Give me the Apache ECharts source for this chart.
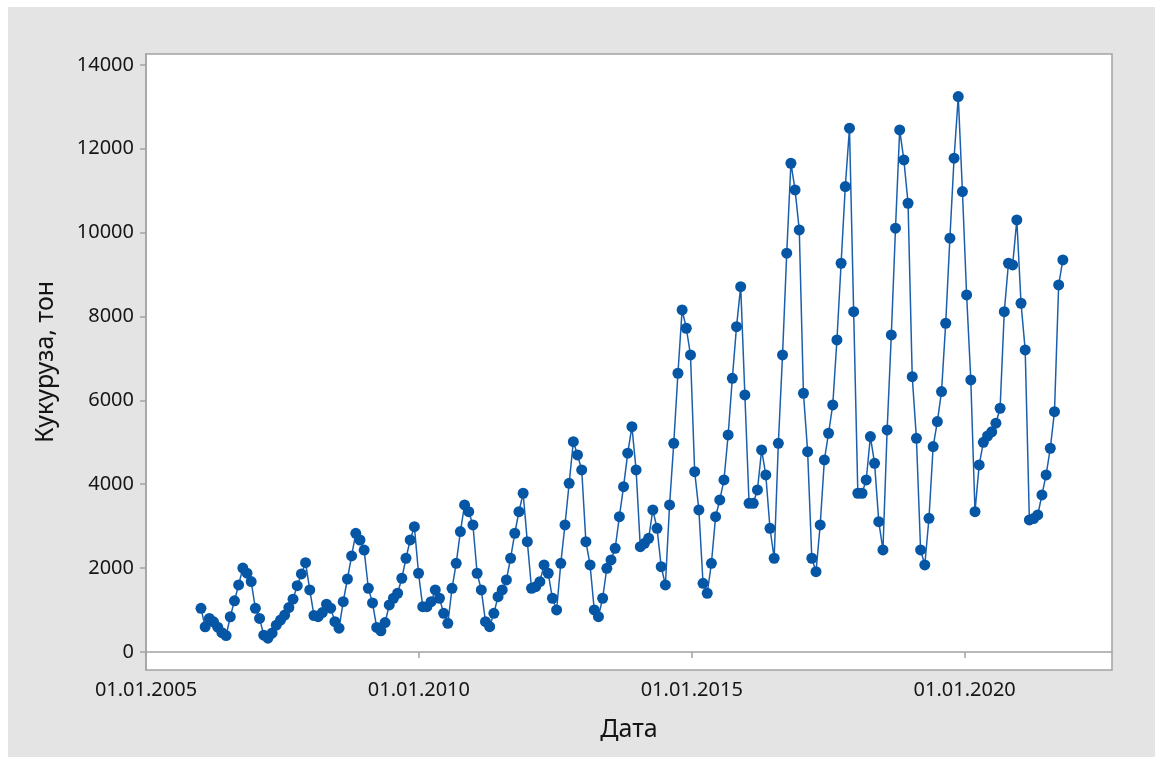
<!DOCTYPE html>
<html><head><meta charset="utf-8">
<script src="https://cdn.jsdelivr.net/npm/echarts@6/dist/echarts.min.js"></script>
<style>html,body{margin:0;padding:0;background:#fff;}#c{position:absolute;left:8px;top:7px;width:1147px;height:750px;}</style>
</head><body><div id="c"></div>
<script>
// 4-weekly observations starting at startDate
const startDate = '2006-01-04';
const stepDays = 28;
const values = [
  1040, 600, 800, 720, 590, 460, 390, 840, 1220, 1600, 2000, 1880, 1680, 1040, 800, 400, 330, 450, 640, 760, 880, 1060, 1260, 1580, 1860, 2130,
  1480, 870, 842, 940, 1140, 1045, 723, 568, 1200, 1740, 2290, 2830, 2670, 2430, 1519, 1170, 585, 505, 700, 1121, 1281, 1400, 1758, 2235, 2671, 2988,
  1877, 1080, 1080, 1200, 1479, 1281, 923, 684, 1519, 2115, 2870, 3506, 3346, 3029, 1877, 1479, 723, 604, 923, 1319, 1479, 1717, 2235, 2831, 3346, 3785,
  2631, 1519, 1557, 1677, 2075, 1877, 1281, 1002, 2115, 3029, 4023, 5016,
  4698, 4341, 2631, 2075, 1002, 842, 1281, 1996, 2194, 2473, 3227, 3942, 4740, 5373,
  4341, 2512, 2592, 2712, 3387, 2950, 2035, 1598, 3506, 4977, 6647, 8157,
  7720, 7083, 4300, 3387, 1638, 1400, 2115, 3227, 3625, 4102, 5175, 6527, 7758, 8712,
  6130, 3546, 3546, 3863, 4818, 4221, 2950, 2235, 4977, 7083, 9509, 11655,
  11019, 10065, 6170, 4777, 2235, 1915, 3029, 4579, 5216, 5891, 7441, 9270, 11098, 12490,
  8116, 3785, 3785, 4102, 5136, 4500, 3108, 2433, 5295, 7560, 10105, 12450,
  11734, 10701, 6566, 5096, 2433, 2075, 3188, 4897, 5494, 6209, 7839, 9867, 11775, 13245,
  10979, 8515, 6487, 3346, 4460, 5000, 5150, 5250, 5455, 5812, 8116, 9270, 9230, 10303,
  8316, 7203, 3148, 3180, 3267, 3744, 4221, 4858, 5731, 8753, 9349
];
const xTickYears = [2005, 2010, 2015, 2020];
const yTicks = [0, 2000, 4000, 6000, 8000, 10000, 12000, 14000];
const xTitle = 'Дата';
const yTitle = 'Кукуруза, тон';

const DAY = 864e5, YEAR = 365.25 * DAY;
const base = Date.UTC(2005, 0, 1);
const t0 = Date.parse(startDate + 'T00:00:00Z');
const toYear = t => 2005 + (t - base) / YEAR;
const data = values.map((v, i) => [toYear(t0 + i * stepDays * DAY), v]);

const chart = echarts.init(document.getElementById('c'), null, {renderer: 'canvas'});
const font = "'Noto Sans', 'Open Sans', sans-serif";
const axisGray = '#a3a3a3';
chart.setOption({
  animation: false,
  backgroundColor: '#e4e4e4',
  textStyle: {fontFamily: font},
  grid: {left: 138, top: 47, right: 43, bottom: 87, show: true, backgroundColor: '#ffffff', borderColor: axisGray, borderWidth: 1.5},
  xAxis: {
    type: 'value', min: 2005, max: 2022.7,
    name: xTitle, nameLocation: 'middle', nameGap: 60,
    nameTextStyle: {fontSize: 25, color: '#141414', fontFamily: font, verticalAlign: 'middle'},
    axisLine: {show: true, lineStyle: {color: axisGray, width: 1.5}},
    axisTick: {show: true, length: 6, customValues: xTickYears, lineStyle: {color: axisGray, width: 1.5}},
    axisLabel: {customValues: xTickYears, formatter: v => '01.01.' + Math.round(v), fontSize: 20, color: '#161616', margin: 10, fontFamily: font},
    splitLine: {show: false}
  },
  yAxis: {
    type: 'value', min: -430, max: 14260,
    name: yTitle, nameLocation: 'middle', nameGap: 100, nameRotate: 90,
    nameTextStyle: {fontSize: 25, color: '#141414', fontFamily: font, verticalAlign: 'middle'},
    axisLine: {show: true, lineStyle: {color: axisGray, width: 1.5}},
    axisTick: {show: true, length: 6, customValues: yTicks, lineStyle: {color: axisGray, width: 1.5}},
    axisLabel: {customValues: yTicks, formatter: v => String(Math.round(v)), fontSize: 20, color: '#161616', margin: 12, fontFamily: font},
    splitLine: {show: false}
  },
  series: [{
    type: 'line', data: data, showSymbol: true, symbol: 'circle', symbolSize: 11,
    itemStyle: {color: '#0656a6'},
    lineStyle: {color: '#1a5fad', width: 1.5}
  }]
});
</script></body></html>
